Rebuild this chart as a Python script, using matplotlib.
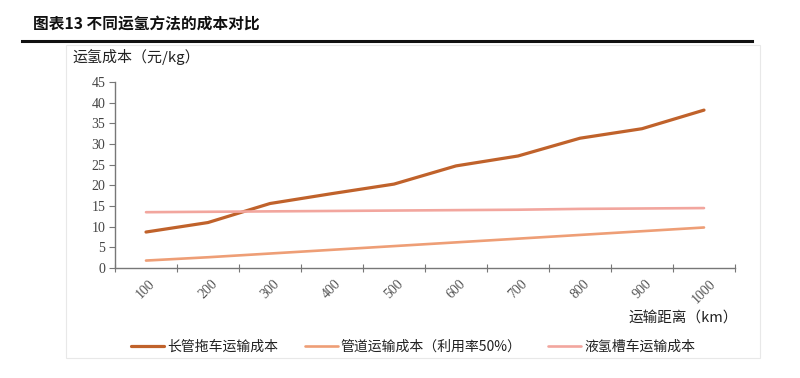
import matplotlib
matplotlib.use("Agg")
import matplotlib.pyplot as plt
from matplotlib.lines import Line2D
from matplotlib.patches import Rectangle

plt.rcParams['font.family'] = ['Noto Sans CJK SC', 'DejaVu Sans']

distances = ["100", "200", "300", "400", "500", "600", "700", "800", "900", "1000"]
tube_trailer = [8.7, 11.0, 15.6, 18.0, 20.3, 24.7, 27.1, 31.4, 33.7, 38.2]
pipeline = [1.8, 2.6, 3.5, 4.4, 5.3, 6.2, 7.1, 8.0, 8.9, 9.8]
liquid_tanker = [13.5, 13.6, 13.7, 13.8, 13.9, 14.0, 14.1, 14.3, 14.4, 14.5]
series_names = ["长管拖车运输成本", "管道运输成本（利用率50%）", "液氢槽车运输成本"]
yticks = [0, 5, 10, 15, 20, 25, 30, 35, 40, 45]

colors = ["#C0622B", "#EE9E76", "#F2A69E"]
W, H = 800, 378
fig = plt.figure(figsize=(8, 3.78), dpi=100)

# panel frame
fig.patches.append(Rectangle((66 / W, 1 - 358 / H), (760 - 66) / W, (358 - 45) / H,
                             transform=fig.transFigure, fill=False,
                             edgecolor="#e8e8e8", lw=0.8))
# title and rule
fig.text(33 / W, 1 - 25 / H, "图表13 不同运氢方法的成本对比", fontsize=11.3,
         fontweight="bold", va="center", ha="left", color="#111111")
fig.add_artist(Line2D([22 / W, 752 / W], [1 - 41 / H, 1 - 41 / H],
                      transform=fig.transFigure, color="#111111", lw=2.2))

ax = fig.add_axes([115 / W, 1 - 268 / H, (735 - 115) / W, (268 - 82) / H])
x = list(range(len(distances)))
ax.plot(x, tube_trailer, color=colors[0], lw=2.3, label=series_names[0], solid_capstyle="round")
ax.plot(x, pipeline, color=colors[1], lw=1.9, label=series_names[1], solid_capstyle="round")
ax.plot(x, liquid_tanker, color=colors[2], lw=1.9, label=series_names[2], solid_capstyle="round")

ax.set_xlim(-0.5, len(distances) - 0.5)
ax.set_ylim(0, 45)
ax.set_yticks(yticks)
ax.set_yticklabels([str(v) for v in yticks], fontsize=10, color="#444444",
                   family="Liberation Serif")
ax.set_xticks([i - 0.5 for i in range(len(distances) + 1)])
ax.set_xticklabels([])
ax.set_xticks(x, minor=True)
ax.set_xticklabels(distances, minor=True, rotation=45, fontsize=10, color="#555555",
                   family="Liberation Serif", ha="center", va="top")
ax.tick_params(axis="x", which="major", direction="inout", length=6, color="#777777")
ax.tick_params(axis="x", which="minor", length=0, pad=7)
ax.tick_params(axis="y", direction="out", length=4, color="#777777", pad=3)
for s in ["top", "right"]:
    ax.spines[s].set_visible(False)
for s in ["left", "bottom"]:
    ax.spines[s].set_color("#777777")
    ax.spines[s].set_linewidth(1.0)

fig.text(72 / W, 1 - 57 / H, "运氢成本（元/kg）", fontsize=10.8, va="center", ha="left",
         color="#222222")
fig.text(738 / W, 1 - 318 / H, "运输距离（km）", fontsize=10.5, va="center", ha="right",
         color="#222222")

fig.legend(loc="center", bbox_to_anchor=(413 / W, 1 - 347 / H), ncol=3, frameon=False,
           fontsize=10, handlelength=2.4, handletextpad=0.2, columnspacing=1.9,
           labelcolor="#222222")

fig.savefig("out.png", dpi=100, facecolor="white")
